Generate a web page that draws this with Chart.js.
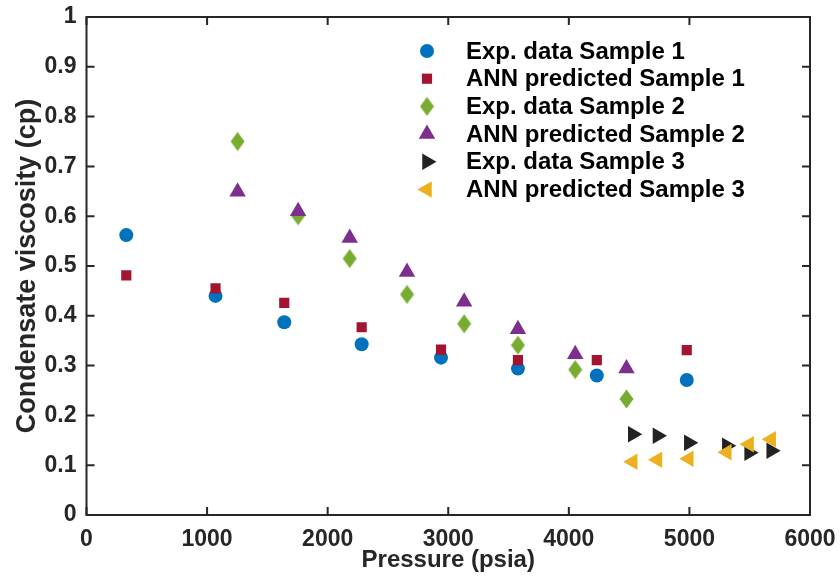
<!DOCTYPE html>
<html>
<head>
<meta charset="utf-8">
<script src="https://cdn.jsdelivr.net/npm/chart.js@4/dist/chart.umd.min.js"></script>
<style>
  body { margin: 0; background: #fff; }
  canvas { display: block; }
</style>
</head>
<body>
<canvas id="chartViscosidade" width="840" height="579"></canvas>
<script>
// pressoes (psia) de cada amostra
var pressaoAmostra1 = [330, 1070, 1640, 2282, 2940, 3578, 4232, 4978];
var pressaoAmostra2 = [1253, 1755, 2183, 2658, 3132, 3578, 4053, 4478];
var pressaoAmostra3 = [4530, 4735, 4995, 5310, 5495, 5678];

// viscosidade (cp)
var expAmostra1 = [0.562, 0.440, 0.387, 0.343, 0.316, 0.294, 0.280, 0.271];
var annAmostra1 = [0.481, 0.455, 0.426, 0.377, 0.332, 0.311, 0.311, 0.331];
var expAmostra2 = [0.750, 0.601, 0.515, 0.443, 0.384, 0.341, 0.292, 0.233];
var annAmostra2 = [0.649, 0.610, 0.556, 0.488, 0.428, 0.373, 0.323, 0.294];
var expAmostra3 = [0.162, 0.159, 0.145, 0.139, 0.125, 0.129];
var annAmostra3 = [0.107, 0.111, 0.113, 0.126, 0.142, 0.152];

var nomesSeries = ['Exp. data Sample 1', 'ANN predicted Sample 1', 'Exp. data Sample 2',
    'ANN predicted Sample 2', 'Exp. data Sample 3', 'ANN predicted Sample 3'];

var ticksX = [0, 1000, 2000, 3000, 4000, 5000, 6000];
var ticksY = [0, 0.1, 0.2, 0.3, 0.4, 0.5, 0.6, 0.7, 0.8, 0.9, 1];

var fonte = "'Liberation Sans', Arial, sans-serif";

function juntarPontos(xs, ys) {
    var pontos = [];
    for (var i = 0; i < xs.length; i++) {
        pontos.push({ x: xs[i], y: ys[i] });
    }
    return pontos;
}

// losango mais alto que largo, como o marcador do matlab
function criarLosango(cor) {
    var c = document.createElement('canvas');
    c.width = 15;
    c.height = 20;
    var g = c.getContext('2d');
    g.fillStyle = cor;
    g.beginPath();
    g.moveTo(7.5, 0.5);
    g.lineTo(14.5, 10);
    g.lineTo(7.5, 19.5);
    g.lineTo(0.5, 10);
    g.closePath();
    g.fill();
    return c;
}

var estilos = [
    { cor: '#0072BD', ponto: 'circle', raio: 7, rot: 0 },
    { cor: '#A2142F', ponto: 'rect', raio: 7.2, rot: 0 },
    { cor: '#77AC30', ponto: criarLosango('#77AC30'), raio: 9, rot: 0 },
    { cor: '#7E2F8E', ponto: 'triangle', raio: 9.5, rot: 0 },
    { cor: '#222222', ponto: 'triangle', raio: 9.5, rot: 90 },
    { cor: '#EDB120', ponto: 'triangle', raio: 9.5, rot: -90 }
];

var dadosSeries = [
    juntarPontos(pressaoAmostra1, expAmostra1),
    juntarPontos(pressaoAmostra1, annAmostra1),
    juntarPontos(pressaoAmostra2, expAmostra2),
    juntarPontos(pressaoAmostra2, annAmostra2),
    juntarPontos(pressaoAmostra3, expAmostra3),
    juntarPontos(pressaoAmostra3, annAmostra3)
];

var datasets = [];
for (var i = 0; i < dadosSeries.length; i++) {
    datasets.push({
        label: nomesSeries[i],
        data: dadosSeries[i],
        backgroundColor: estilos[i].cor,
        borderWidth: 0,
        pointStyle: estilos[i].ponto,
        pointRadius: estilos[i].raio,
        pointHoverRadius: estilos[i].raio,
        pointRotation: estilos[i].rot,
        order: dadosSeries.length - i   // series seguintes ficam por cima
    });
}

// caixa do eixo com ticks para dentro + legenda dentro do grafico
const caixaPlugin = {
    id: 'caixaMatlab',
    beforeDatasetsDraw(chart) {
        const { ctx, chartArea: a, scales } = chart;
        ctx.save();
        ctx.strokeStyle = '#262626';
        ctx.lineWidth = 2;
        ctx.beginPath();
        ticksX.forEach(v => {
            var px = scales.x.getPixelForValue(v);
            ctx.moveTo(px, a.bottom); ctx.lineTo(px, a.bottom - 8);
            ctx.moveTo(px, a.top); ctx.lineTo(px, a.top + 8);
        });
        ticksY.forEach(v => {
            var py = scales.y.getPixelForValue(v);
            ctx.moveTo(a.left, py); ctx.lineTo(a.left + 8, py);
            ctx.moveTo(a.right, py); ctx.lineTo(a.right - 8, py);
        });
        ctx.stroke();
        ctx.strokeRect(a.left, a.top, a.right - a.left, a.bottom - a.top);
        ctx.restore();
    },
    afterDatasetsDraw(chart) {
        const { ctx } = chart;
        ctx.save();
        ctx.font = 'bold 24px ' + fonte;
        ctx.textBaseline = 'middle';
        ctx.textAlign = 'left';
        for (var i = 0; i < nomesSeries.length; i++) {
            var y = 51 + i * 27.7;
            ctx.fillStyle = estilos[i].cor;
            Chart.helpers.drawPoint(ctx, {
                pointStyle: estilos[i].ponto,
                rotation: estilos[i].rot,
                radius: estilos[i].raio,
                borderWidth: 0
            }, 427, y);
            ctx.fillStyle = '#000';
            ctx.fillText(nomesSeries[i], 466, y + 1);
        }
        ctx.restore();
    }
};

const config = {
    type: 'scatter',
    data: { datasets: datasets },
    options: {
        responsive: false,
        animation: false,
        layout: { padding: { top: 17, right: 30, left: 0, bottom: 0 } },
        scales: {
            x: {
                type: 'linear',
                min: 0,
                max: 6000,
                afterBuildTicks: s => { s.ticks = ticksX.map(v => ({ value: v })); },
                afterFit: s => { s.height = 64; s.paddingLeft = 0; s.paddingRight = 0; },
                grid: { display: false, drawTicks: false },
                border: { display: false },
                ticks: {
                    padding: 11,
                    color: '#262626',
                    font: { family: fonte, size: 23, weight: 'bold' },
                    maxRotation: 0,
                    callback: v => String(v)
                },
                title: {
                    display: true,
                    text: 'Pressure (psia)',
                    color: '#262626',
                    font: { family: fonte, size: 24, weight: 'bold' },
                    padding: { top: 0, bottom: 4 }
                }
            },
            y: {
                type: 'linear',
                min: 0,
                max: 1,
                afterBuildTicks: s => { s.ticks = ticksY.map(v => ({ value: v })); },
                afterFit: s => { s.width = 86.5; s.paddingTop = 0; s.paddingBottom = 0; },
                grid: { display: false, drawTicks: false },
                border: { display: false },
                ticks: {
                    padding: 10,
                    color: '#262626',
                    font: { family: fonte, size: 23, weight: 'bold' },
                    callback: v => String(Math.round(v * 10) / 10)
                },
                title: {
                    display: true,
                    text: 'Condensate viscosity (cp)',
                    color: '#262626',
                    font: { family: fonte, size: 27, weight: 'bold' },
                    padding: { top: 11, bottom: 0 }
                }
            }
        },
        plugins: {
            legend: { display: false },
            tooltip: { enabled: false }
        }
    },
    plugins: [caixaPlugin]
};

let chartViscosidade = new Chart(document.getElementById('chartViscosidade'), config);
</script>
</body>
</html>
